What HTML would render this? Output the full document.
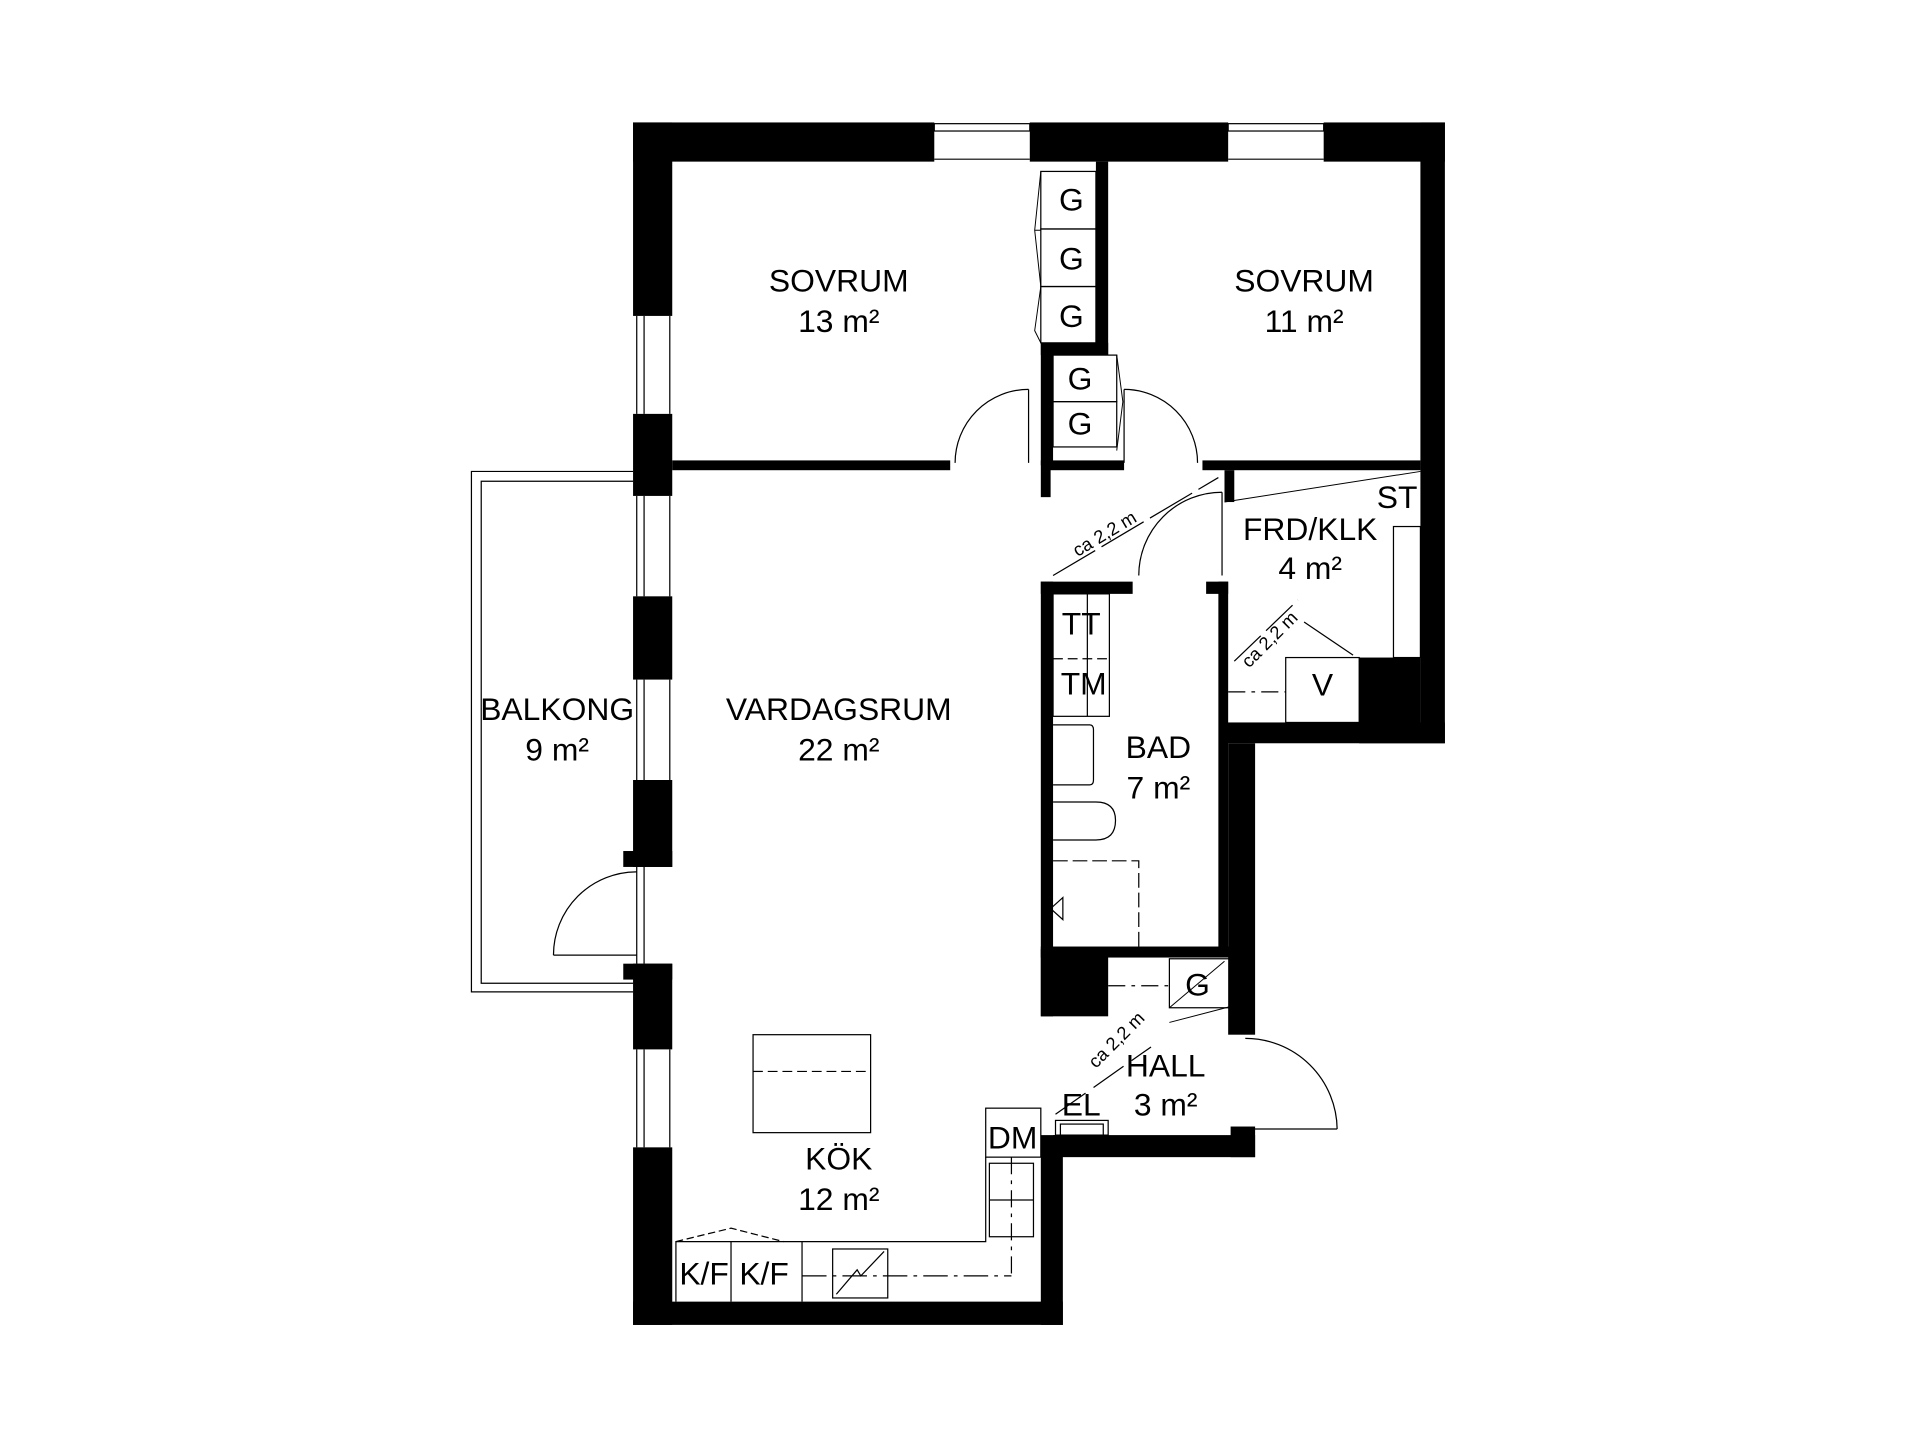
<!DOCTYPE html>
<html><head><style>html,body{margin:0;padding:0;background:#fff}svg{display:block}</style></head>
<body>
<svg width="1920" height="1440" viewBox="0 0 1568 1176" preserveAspectRatio="none" xmlns="http://www.w3.org/2000/svg" font-family="Liberation Sans, sans-serif">
<g fill="#000">
<rect x="517" y="100" width="246" height="32"/>
<rect x="841" y="100" width="162" height="32"/>
<rect x="1081" y="100" width="99" height="32"/>
<rect x="517" y="100" width="32" height="158"/>
<rect x="517" y="338" width="32" height="67"/>
<rect x="517" y="487" width="32" height="68"/>
<rect x="517" y="637" width="32" height="71"/>
<rect x="509" y="695" width="40" height="13"/>
<rect x="517" y="787" width="32" height="70"/>
<rect x="509" y="787" width="40" height="13"/>
<rect x="517" y="937" width="32" height="145"/>
<rect x="517" y="1063" width="351" height="19"/>
<rect x="850" y="927" width="18" height="155"/>
<rect x="1160" y="100" width="20" height="507"/>
<rect x="1000" y="590" width="180" height="17"/>
<rect x="1110" y="537" width="50" height="70"/>
<rect x="549" y="376" width="227" height="8"/>
<rect x="853" y="376" width="65" height="8"/>
<rect x="982" y="376" width="178" height="8"/>
<rect x="895" y="132" width="10" height="158"/>
<rect x="850" y="280" width="55" height="10"/>
<rect x="850" y="280" width="10" height="100"/>
<rect x="850" y="376" width="8" height="30"/>
<rect x="1000" y="384" width="8" height="26"/>
<rect x="850" y="475" width="10" height="355"/>
<rect x="850" y="475" width="75" height="10"/>
<rect x="985" y="475" width="18" height="10"/>
<rect x="995" y="475" width="8" height="300"/>
<rect x="1003" y="607" width="22" height="238"/>
<rect x="850" y="773" width="155" height="9"/>
<rect x="850" y="775" width="55" height="55"/>
<rect x="860" y="927" width="165" height="18"/>
<rect x="1005" y="920" width="20" height="25"/>
</g>
<g fill="none" stroke="#000" stroke-width="1">
<rect x="763" y="101" width="78" height="6"/><line x1="763" y1="130" x2="841" y2="130"/>
<rect x="1003" y="101" width="78" height="6"/><line x1="1003" y1="130" x2="1081" y2="130"/>
<line x1="520" y1="258" x2="520" y2="338"/><line x1="526" y1="258" x2="526" y2="338"/><line x1="547" y1="258" x2="547" y2="338"/>
<line x1="520" y1="405" x2="520" y2="487"/><line x1="526" y1="405" x2="526" y2="487"/><line x1="547" y1="405" x2="547" y2="487"/>
<line x1="520" y1="555" x2="520" y2="637"/><line x1="526" y1="555" x2="526" y2="637"/><line x1="547" y1="555" x2="547" y2="637"/>
<line x1="520" y1="857" x2="520" y2="937"/><line x1="526" y1="857" x2="526" y2="937"/><line x1="547" y1="857" x2="547" y2="937"/>
<line x1="520" y1="708" x2="520" y2="787"/><line x1="526" y1="708" x2="526" y2="787"/>
<path d="M517 385 H385 V810 H517"/><path d="M517 393 H393 V803 H517"/>
<path d="M452 780 A68 68 0 0 1 520 712"/><line x1="452" y1="780" x2="520" y2="780"/>
<path d="M780 378 A60 60 0 0 1 840 318"/><line x1="840" y1="318" x2="840" y2="378"/>
<path d="M918 318 A60 60 0 0 1 978 378"/><line x1="918" y1="318" x2="918" y2="378"/>
<path d="M930 470 A68 68 0 0 1 998 402"/><line x1="998" y1="402" x2="998" y2="470"/>
<path d="M1017 848 A75 75 0 0 1 1092 922"/><line x1="1017" y1="922" x2="1092" y2="922"/>
<rect x="850" y="140" width="45" height="47"/><rect x="850" y="187" width="45" height="47"/><rect x="850" y="234" width="45" height="46"/>
<path d="M850 140 L845 188 L850 234 M845 188 L850 188 M850 234 L845 270 L850 280" stroke-width="0.8"/>
<rect x="860" y="290" width="52" height="38"/><rect x="860" y="328" width="52" height="37"/>
<path d="M912 290 L917 328 L912 368" stroke-width="0.8"/>
<path d="M1160 385 L1000 410" stroke-width="0.8"/>
<rect x="1138" y="430" width="22" height="107"/>
<rect x="1050" y="537" width="60" height="53"/>
<line x1="1003" y1="565" x2="1050" y2="565" stroke-dasharray="14 5 3 5"/>
<line x1="1065" y1="508" x2="1105" y2="535"/>
<line x1="1008" y1="540" x2="1060" y2="490" stroke-dasharray="30 6"/>
<line x1="860" y1="470" x2="995" y2="390" stroke-dasharray="40 6"/>
<rect x="860" y="485" width="46" height="100"/>
<line x1="860" y1="538" x2="906" y2="538" stroke-dasharray="8 4"/>
<line x1="888" y1="485" x2="888" y2="585"/>
<path d="M860 592 H890 Q893 592 893 596 V637 Q893 641 890 641 H860"/>
<path d="M860 655 H895 Q911 655 911 670 Q911 686 895 686 H860"/>
<path d="M860 703 H930 V780" stroke-dasharray="12 4"/>
<path d="M868 733 L858 742 L868 751 Z"/>
<rect x="955" y="783" width="50" height="40"/>
<line x1="905" y1="805" x2="955" y2="805" stroke-dasharray="14 5 3 5"/>
<path d="M955 835 L1005 822 M955 823 L1000 785" stroke-width="0.8"/>
<line x1="862" y1="910" x2="940" y2="855" stroke-dasharray="30 8"/>
<rect x="862" y="915" width="43" height="12"/><rect x="866" y="918" width="35" height="9"/>
<rect x="615" y="845" width="96" height="80"/>
<line x1="615" y1="875" x2="711" y2="875" stroke-dasharray="8 4"/>
<rect x="805" y="905" width="45" height="40"/>
<path d="M805 945 V1014 H680 M680 1014 H552 V1063 M597 1014 V1063 M655 1014 V1063"/>
<path d="M552 1014 L597 1003 L640 1014" stroke-dasharray="6 3"/>
<rect x="808" y="950" width="36" height="60"/><line x1="808" y1="980" x2="844" y2="980"/>
<line x1="826" y1="945" x2="826" y2="1042" stroke-dasharray="14 5 3 5"/>
<line x1="655" y1="1042" x2="826" y2="1042" stroke-dasharray="20 5 3 5"/>
<rect x="680" y="1020" width="45" height="40"/>
<path d="M683 1057 L700 1037 L703 1042 L722 1022"/>
</g>
<g font-size="26" fill="#000" text-anchor="middle">
<text x="685" y="238">SOVRUM</text><text x="685" y="271">13 m²</text>
<text x="1065" y="238">SOVRUM</text><text x="1065" y="271">11 m²</text>
<text x="685" y="588">VARDAGSRUM</text><text x="685" y="621">22 m²</text>
<text x="455" y="588">BALKONG</text><text x="455" y="621">9 m²</text>
<text x="1070" y="441">FRD/KLK</text><text x="1070" y="473">4 m²</text>
<text x="1141" y="415">ST</text>
<text x="946" y="619">BAD</text><text x="946" y="652">7 m²</text>
<text x="952" y="879">HALL</text><text x="952" y="911">3 m²</text>
<text x="685" y="955">KÖK</text><text x="685" y="988">12 m²</text>
<text x="875" y="172">G</text><text x="875" y="220">G</text><text x="875" y="267">G</text>
<text x="882" y="318">G</text><text x="882" y="355">G</text>
<text x="978" y="813">G</text>
<text x="1080" y="568">V</text>
<text x="883" y="518">TT</text><text x="885" y="567">TM</text>
<text x="883" y="911">EL</text><text x="827" y="938">DM</text>
<text x="575" y="1049">K/F</text><text x="624" y="1049">K/F</text>
</g>
<g font-size="15" fill="#000">
<text transform="translate(880 455) rotate(-31)">ca 2,2 m</text>
<text transform="translate(1020 546) rotate(-45)">ca 2,2 m</text>
<text transform="translate(895 873) rotate(-45)">ca 2,2 m</text>
</g>
</svg>
</body></html>
